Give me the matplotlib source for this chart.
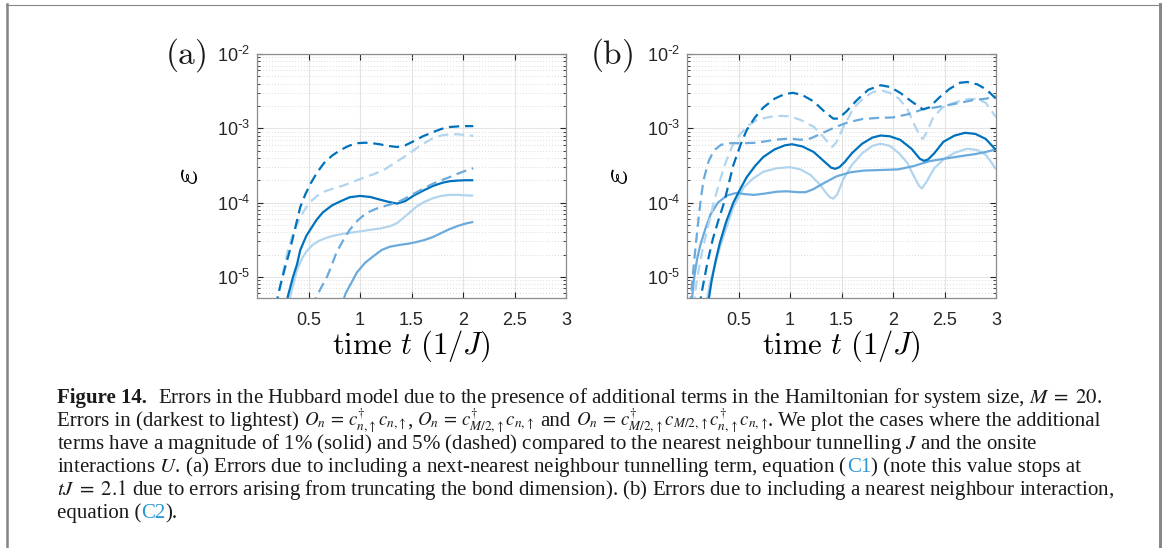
import matplotlib
matplotlib.use('Agg')
import matplotlib.pyplot as plt
from matplotlib.lines import Line2D
from matplotlib.ticker import LogLocator, NullFormatter, NullLocator
import numpy as np

# ---------------- data ----------------
xtick_vals = [0.5, 1, 1.5, 2, 2.5, 3]
xtick_labels = ['0.5', '1', '1.5', '2', '2.5', '3']
ytick_vals = [1e-5, 1e-4, 1e-3, 1e-2]
ytick_labels = [r'$\mathregular{10^{\text{-}5}}$', r'$\mathregular{10^{\text{-}4}}$',
                r'$\mathregular{10^{\text{-}3}}$', r'$\mathregular{10^{\text{-}2}}$']

# Panel (a): next-nearest neighbour tunnelling term
a_O1_solid_t = [0.28, 0.30, 0.35, 0.39, 0.42, 0.48, 0.58, 0.64, 0.73, 0.81, 0.90, 1.0, 1.1, 1.19, 1.28, 1.36, 1.44, 1.52, 1.6, 1.71, 1.8, 1.87, 1.95, 2.03, 2.1]
a_O1_solid_v = [4e-6, 5.5e-6, 1.0e-5, 1.5e-5, 2.3e-5, 3.6e-5, 5.9e-5, 7.4e-5, 9.2e-5, 1.04e-4, 1.18e-4, 1.23e-4, 1.19e-4, 1.1e-4, 1.02e-4, 9.7e-5, 1.05e-4, 1.24e-4, 1.42e-4, 1.68e-4, 1.85e-4, 1.94e-4, 1.98e-4, 2.0e-4, 2.0e-4]
a_O2_solid_t = [0.82, 0.86, 0.92, 0.97, 1.05, 1.13, 1.21, 1.29, 1.39, 1.47, 1.55, 1.63, 1.71, 1.79, 1.87, 1.95, 2.02, 2.1]
a_O2_solid_v = [4e-6, 6e-6, 8.5e-6, 1.15e-5, 1.55e-5, 1.9e-5, 2.3e-5, 2.55e-5, 2.7e-5, 2.8e-5, 2.95e-5, 3.15e-5, 3.45e-5, 3.9e-5, 4.4e-5, 4.85e-5, 5.2e-5, 5.5e-5]
a_O3_solid_t = [0.30, 0.33, 0.39, 0.44, 0.48, 0.54, 0.60, 0.67, 0.75, 0.83, 0.92, 1.0, 1.1, 1.2, 1.29, 1.36, 1.42, 1.49, 1.55, 1.63, 1.71, 1.79, 1.87, 1.95, 2.03, 2.1]
a_O3_solid_v = [4e-6, 6e-6, 1.26e-5, 1.8e-5, 2.2e-5, 2.7e-5, 3.05e-5, 3.35e-5, 3.6e-5, 3.8e-5, 3.95e-5, 4.1e-5, 4.3e-5, 4.5e-5, 4.8e-5, 5.3e-5, 6.2e-5, 7.5e-5, 8.9e-5, 1.03e-4, 1.15e-4, 1.23e-4, 1.27e-4, 1.27e-4, 1.25e-4, 1.24e-4]

a_O1_dash_t = [0.18, 0.22, 0.27, 0.32, 0.37, 0.42, 0.47, 0.52, 0.58, 0.65, 0.73, 0.81, 0.89, 0.97, 1.05, 1.12, 1.19, 1.27, 1.36, 1.44, 1.52, 1.61, 1.71, 1.79, 1.87, 1.95, 2.03, 2.1]
a_O1_dash_v = [4e-6, 7e-6, 1.3e-5, 2.3e-5, 4.5e-5, 8.7e-5, 1.3e-4, 1.8e-4, 2.5e-4, 3.4e-4, 4.3e-4, 5.1e-4, 5.8e-4, 6.3e-4, 6.4e-4, 6.3e-4, 6.1e-4, 5.8e-4, 5.6e-4, 5.9e-4, 6.7e-4, 7.8e-4, 8.9e-4, 9.8e-4, 1.04e-3, 1.06e-3, 1.07e-3, 1.07e-3]
a_O2_dash_t = [0.53, 0.58, 0.63, 0.68, 0.73, 0.77, 0.83, 0.90, 0.98, 1.06, 1.15, 1.22, 1.29, 1.39, 1.47, 1.55, 1.63, 1.71, 1.79, 1.87, 1.95, 2.03, 2.1]
a_O2_dash_v = [4e-6, 5.5e-6, 7.5e-6, 1e-5, 1.5e-5, 2.1e-5, 3.0e-5, 4.3e-5, 5.8e-5, 7.2e-5, 8.2e-5, 8.8e-5, 9.4e-5, 1.05e-4, 1.2e-4, 1.38e-4, 1.58e-4, 1.8e-4, 2.0e-4, 2.2e-4, 2.45e-4, 2.7e-4, 2.9e-4]
a_O3_dash_t = [0.19, 0.22, 0.26, 0.30, 0.35, 0.40, 0.45, 0.51, 0.58, 0.65, 0.74, 0.84, 0.93, 1.03, 1.13, 1.23, 1.35, 1.48, 1.58, 1.71, 1.79, 1.87, 1.95, 2.03, 2.1]
a_O3_dash_v = [4e-6, 7e-6, 1.3e-5, 2.3e-5, 3.8e-5, 5.5e-5, 7.5e-5, 1.0e-4, 1.22e-4, 1.4e-4, 1.55e-4, 1.7e-4, 1.9e-4, 2.15e-4, 2.4e-4, 2.75e-4, 3.5e-4, 4.6e-4, 5.8e-4, 7.4e-4, 8.0e-4, 8.3e-4, 8.3e-4, 8.1e-4, 7.9e-4]

# Panel (b): nearest neighbour interaction term
b_O1_solid_t = [0.2, 0.24, 0.28, 0.32, 0.38, 0.45, 0.52, 0.58, 0.66, 0.74, 0.85, 0.95, 1.02, 1.12, 1.23, 1.33, 1.40, 1.44, 1.48, 1.53, 1.6, 1.7, 1.8, 1.88, 1.97, 2.07, 2.18, 2.26, 2.3, 2.34, 2.4, 2.49, 2.6, 2.7, 2.8, 2.9, 3.0]
b_O1_solid_v = [4e-6, 9e-6, 1.7e-5, 2.9e-5, 5.5e-5, 1e-4, 1.55e-4, 2.2e-4, 3.1e-4, 4.1e-4, 5.2e-4, 5.9e-4, 6.1e-4, 5.7e-4, 4.8e-4, 3.6e-4, 2.95e-4, 2.85e-4, 3.0e-4, 3.5e-4, 4.6e-4, 6.2e-4, 7.5e-4, 8.0e-4, 7.8e-4, 7.0e-4, 5.3e-4, 3.9e-4, 3.65e-4, 3.8e-4, 4.6e-4, 6.6e-4, 8.0e-4, 8.7e-4, 8.4e-4, 7.2e-4, 5.1e-4]
b_O2_solid_t = [0.04, 0.07, 0.1, 0.13, 0.18, 0.23, 0.3, 0.39, 0.48, 0.56, 0.65, 0.75, 0.87, 0.97, 1.08, 1.15, 1.22, 1.32, 1.45, 1.58, 1.72, 1.9, 2.05, 2.2, 2.35, 2.5, 2.65, 2.8, 2.9, 3.0]
b_O2_solid_v = [4e-6, 1e-5, 1.8e-5, 2.7e-5, 4.5e-5, 7e-5, 1.0e-4, 1.25e-4, 1.35e-4, 1.3e-4, 1.27e-4, 1.32e-4, 1.4e-4, 1.42e-4, 1.38e-4, 1.38e-4, 1.5e-4, 1.8e-4, 2.25e-4, 2.55e-4, 2.7e-4, 2.75e-4, 2.8e-4, 3.1e-4, 3.6e-4, 3.9e-4, 4.2e-4, 4.5e-4, 4.8e-4, 5.2e-4]
b_O3_solid_t = [0.18, 0.23, 0.28, 0.32, 0.38, 0.45, 0.55, 0.64, 0.74, 0.87, 1.0, 1.1, 1.2, 1.29, 1.35, 1.39, 1.42, 1.46, 1.52, 1.6, 1.7, 1.8, 1.88, 1.97, 2.06, 2.14, 2.2, 2.25, 2.28, 2.32, 2.4, 2.5, 2.6, 2.72, 2.82, 2.9, 2.96, 3.0]
b_O3_solid_v = [4e-6, 9e-6, 1.6e-5, 2.5e-5, 4.5e-5, 8.7e-5, 1.6e-4, 2.1e-4, 2.6e-4, 2.9e-4, 3.0e-4, 2.8e-4, 2.35e-4, 1.75e-4, 1.35e-4, 1.17e-4, 1.13e-4, 1.3e-4, 2.1e-4, 3.2e-4, 4.6e-4, 5.8e-4, 6.2e-4, 5.8e-4, 4.6e-4, 3.4e-4, 2.3e-4, 1.7e-4, 1.55e-4, 1.85e-4, 2.9e-4, 3.9e-4, 4.7e-4, 5.3e-4, 5.1e-4, 4.4e-4, 3.4e-4, 2.8e-4]

b_O1_dash_t = [0.12, 0.15, 0.2, 0.25, 0.3, 0.36, 0.45, 0.52, 0.58, 0.66, 0.74, 0.85, 0.95, 1.03, 1.12, 1.23, 1.33, 1.42, 1.47, 1.55, 1.65, 1.76, 1.88, 1.97, 2.07, 2.18, 2.29, 2.35, 2.45, 2.55, 2.65, 2.72, 2.82, 2.91, 3.0]
b_O1_dash_v = [4e-6, 7e-6, 1.6e-5, 3.2e-5, 5.5e-5, 1e-4, 3.2e-4, 6e-4, 9.5e-4, 1.4e-3, 1.9e-3, 2.5e-3, 2.9e-3, 3.0e-3, 2.8e-3, 2.3e-3, 1.7e-3, 1.35e-3, 1.35e-3, 1.7e-3, 2.4e-3, 3.3e-3, 3.8e-3, 3.6e-3, 3.0e-3, 2.3e-3, 1.8e-3, 1.9e-3, 2.6e-3, 3.4e-3, 4.1e-3, 4.2e-3, 3.9e-3, 3.3e-3, 2.5e-3]
b_O2_dash_t = [0.03, 0.06, 0.1, 0.13, 0.16, 0.21, 0.26, 0.33, 0.42, 0.55, 0.68, 0.85, 1.0, 1.1, 1.2, 1.32, 1.45, 1.56, 1.7, 1.85, 2.0, 2.15, 2.29, 2.4, 2.53, 2.65, 2.78, 2.9, 3.0]
b_O2_dash_v = [4e-6, 1.2e-5, 4.3e-5, 1e-4, 2e-4, 3.6e-4, 5e-4, 6e-4, 6.3e-4, 6.3e-4, 6.4e-4, 7.0e-4, 7.3e-4, 7.0e-4, 7.3e-4, 8.7e-4, 1.05e-3, 1.2e-3, 1.33e-3, 1.38e-3, 1.4e-3, 1.55e-3, 1.8e-3, 1.9e-3, 2.05e-3, 2.2e-3, 2.4e-3, 2.5e-3, 2.7e-3]
b_O3_dash_t = [0.06, 0.1, 0.15, 0.2, 0.26, 0.32, 0.38, 0.45, 0.52, 0.6, 0.68, 0.8, 0.9, 1.0, 1.1, 1.23, 1.32, 1.38, 1.41, 1.45, 1.52, 1.62, 1.72, 1.81, 1.9, 1.97, 2.06, 2.14, 2.21, 2.27, 2.29, 2.33, 2.39, 2.48, 2.59, 2.7, 2.82, 2.9, 2.96, 3.0]
b_O3_dash_v = [4e-6, 1e-5, 2.3e-5, 4.5e-5, 1e-4, 2e-4, 3.6e-4, 6.3e-4, 8.5e-4, 1.1e-3, 1.3e-3, 1.42e-3, 1.47e-3, 1.45e-3, 1.3e-3, 1.05e-3, 7.8e-4, 6.2e-4, 5.6e-4, 6.5e-4, 1.05e-3, 1.9e-3, 2.6e-3, 3.1e-3, 3.2e-3, 3.0e-3, 2.5e-3, 1.8e-3, 1.1e-3, 7.5e-4, 7.2e-4, 9e-4, 1.4e-3, 1.9e-3, 2.2e-3, 2.45e-3, 2.5e-3, 2.2e-3, 1.7e-3, 1.4e-3]

panel_labels = ['(a)', '(b)']
xlabel_text = r'$\mathrm{time}\ t\ (1/J)$'
ylabel_text = r'$\varepsilon$'

# ---------------- styling ----------------
C_DARK = '#0072bd'
C_MID = '#6aaadc'
C_LIGHT = '#b2d5ef'
C_LINK = '#2a96d4'

W, H = 1165, 548
fig = plt.figure(figsize=(W / 100, H / 100), dpi=100)
plt.rcParams['font.family'] = ['Liberation Sans', 'DejaVu Sans']

axA = fig.add_axes([257 / W, 1 - 298 / H, (566 - 257) / W, (298 - 54) / H])
axB = fig.add_axes([687 / W, 1 - 298 / H, (996 - 687) / W, (298 - 54) / H])

DASH = (0, (4.6, 2.6))
LW = 1.6


def style(ax):
    ax.set_yscale('log')
    ax.set_xlim(0, 3)
    ax.set_ylim(5.2e-6, 1e-2)
    ax.set_xticks(xtick_vals)
    ax.set_xticklabels(xtick_labels)
    ax.set_yticks(ytick_vals)
    ax.set_yticklabels(ytick_labels)
    ax.yaxis.set_minor_locator(LogLocator(base=10, subs=np.arange(2, 10)))
    ax.yaxis.set_minor_formatter(NullFormatter())
    ax.xaxis.set_minor_locator(NullLocator())
    ax.tick_params(which='both', direction='in', top=True, right=True,
                   colors='#262626', labelsize=13)
    ax.tick_params(which='major', length=4.5, width=0.8)
    ax.tick_params(axis='x', which='major', pad=10)
    ax.tick_params(axis='y', which='major', pad=5)
    ax.tick_params(which='minor', length=2.5, width=0.6)
    ax.grid(True, which='major', color='#e4e4e4', lw=0.8)
    ax.grid(True, which='minor', axis='y', color='#d0d0d0', lw=0.6, ls=(0, (1, 2.5)))
    ax.set_axisbelow(True)
    for sp in ax.spines.values():
        sp.set_color('#8c8c8c')
        sp.set_linewidth(0.9)
    ax.set_xlabel(xlabel_text, fontsize=22, math_fontfamily='cm')
    ax.xaxis.set_label_coords(0.5, (298 - 346) / 244)
    ax.xaxis.label.set_va('center')
    ax.set_ylabel(ylabel_text, fontsize=26, math_fontfamily='cm')
    ax.yaxis.set_label_coords((188 - 257) / 309, 0.5)
    ax.yaxis.label.set_va('center')
    ax.yaxis.label.set_ha('center')


def draw(ax, series):
    for t, v, c, ls in series:
        ax.plot(t, v, color=c, lw=LW, ls=ls, solid_capstyle='butt', dash_capstyle='butt')


draw(axA, [
    (a_O3_solid_t, a_O3_solid_v, C_LIGHT, '-'),
    (a_O2_solid_t, a_O2_solid_v, C_MID, '-'),
    (a_O1_solid_t, a_O1_solid_v, C_DARK, '-'),
    (a_O3_dash_t, a_O3_dash_v, C_LIGHT, DASH),
    (a_O2_dash_t, a_O2_dash_v, C_MID, DASH),
    (a_O1_dash_t, a_O1_dash_v, C_DARK, DASH),
])
draw(axB, [
    (b_O3_solid_t, b_O3_solid_v, C_LIGHT, '-'),
    (b_O2_solid_t, b_O2_solid_v, C_MID, '-'),
    (b_O1_solid_t, b_O1_solid_v, C_DARK, '-'),
    (b_O3_dash_t, b_O3_dash_v, C_LIGHT, DASH),
    (b_O2_dash_t, b_O2_dash_v, C_MID, DASH),
    (b_O1_dash_t, b_O1_dash_v, C_DARK, DASH),
])
style(axA)
style(axB)

for lab, xc in zip(panel_labels, [186, 612]):
    fig.text(xc / W, 1 - 55 / H, r'$\mathrm{' + lab + '}$', fontsize=24,
             math_fontfamily='cm', ha='center', va='center', color='#1a1a1a')

# ---------------- frame ----------------
fig.add_artist(Line2D([7 / W, 7 / W], [0, 1 - 4 / H], color='#858585', lw=1.8, transform=fig.transFigure))
fig.add_artist(Line2D([6 / W, 1161 / W], [1 - 4.5 / H, 1 - 4.5 / H], color='#858585', lw=0.8, transform=fig.transFigure))
fig.add_artist(Line2D([1160 / W, 1160 / W], [0, 1 - 4 / H], color='#858585', lw=2.1, transform=fig.transFigure))

# ---------------- caption ----------------
CAP_FS = 15.0
MATH_FS = 13.6
renderer = fig.canvas.get_renderer()
SP = 'SPACE'
MS = dict(fontsize=MATH_FS)
cap_lines = [
    [("Figure 14.", dict(weight='bold')), (None, 11),
     (r"Errors in the Hubbard model due to the presence of additional terms in the Hamiltonian for system size, $M\;=\;20$.", {})],
    [(r"Errors in (darkest to lightest)", {}), SP,
     (r"$O_n\,=\,c^{\dagger}_{n,\!\uparrow}c_{n,\!\uparrow}$", MS), (",", {}), SP,
     (r"$O_n\,=\,c^{\dagger}_{M/2,\!\uparrow}c_{n,\!\uparrow}$", MS), SP, ("and", {}), SP,
     (r"$O_n\,=\,c^{\dagger}_{M/2,\!\uparrow}c_{M/2,\!\uparrow}c^{\dagger}_{n,\!\uparrow}c_{n,\!\uparrow}$", MS),
     (". We plot the cases where the additional", {})],
    [(r"terms have a magnitude of 1% (solid) and 5% (dashed) compared to the nearest neighbour tunnelling $J$ and the onsite", {})],
    [(r"interactions $U$. (a) Errors due to including a next-nearest neighbour tunnelling term, equation (", {}),
     ("C1", dict(color=C_LINK)), (") (note this value stops at", {})],
    [(r"$tJ\;=\;2.1$ due to errors arising from truncating the bond dimension). (b) Errors due to including a nearest neighbour interaction,", {})],
    [("equation (", {}), ("C2", dict(color=C_LINK)), (").", {})],
]


def base_opts():
    return dict(fontsize=CAP_FS, family=['Liberation Serif', 'DejaVu Serif'],
                math_fontfamily='stix', ha='left', va='baseline', color='#1a1a1a')


# width of one space in the caption font
_t1 = fig.text(0, 0, 'x x', **base_opts())
_t2 = fig.text(0, 0, 'xx', **base_opts())
space_w = _t1.get_window_extent(renderer).width - _t2.get_window_extent(renderer).width
_t1.remove()
_t2.remove()

y0 = 403
for i, segs in enumerate(cap_lines):
    x = 57
    y = y0 + 23 * i
    for seg in segs:
        if seg == SP:
            x += space_w
            continue
        s, kw = seg
        if s is None:
            x += kw
            continue
        opts = base_opts()
        opts.update(kw)
        t = fig.text(x / W, 1 - y / H, s, **opts)
        x += t.get_window_extent(renderer).width

fig.savefig('out.png', dpi=100)
